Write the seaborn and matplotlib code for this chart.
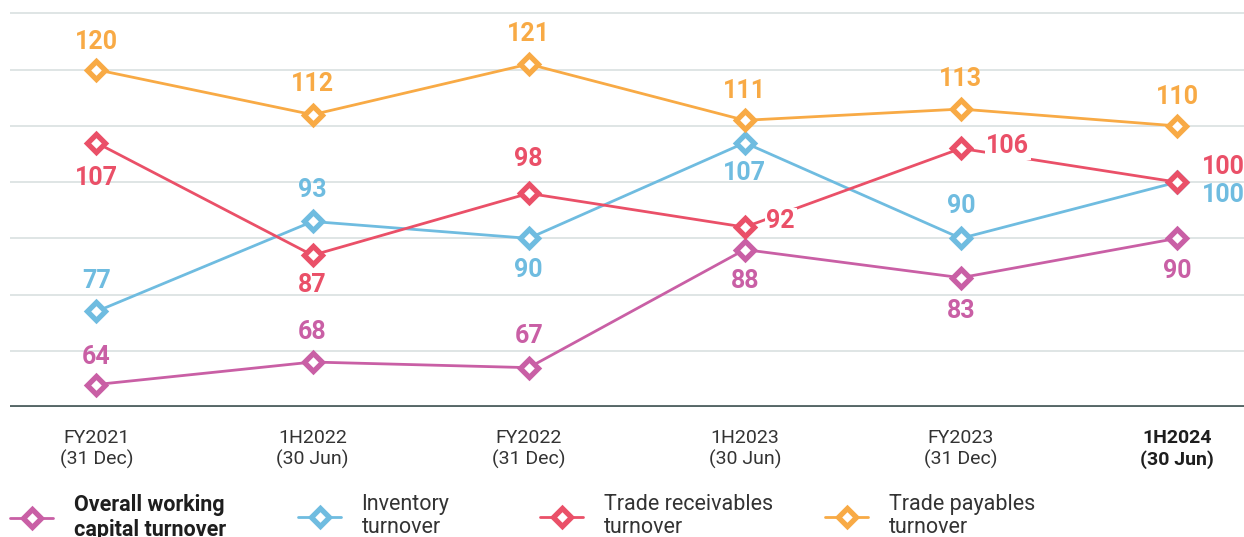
import pandas as pd
import seaborn as sns
import matplotlib.pyplot as plt
from matplotlib.lines import Line2D

periods = ["FY2021\n(31 Dec)", "1H2022\n(30 Jun)", "FY2022\n(31 Dec)",
           "1H2023\n(30 Jun)", "FY2023\n(31 Dec)", "1H2024\n(30 Jun)"]
overall = [64, 68, 67, 88, 83, 90]
inventory = [77, 93, 90, 107, 90, 100]
receivables = [107, 87, 98, 92, 106, 100]
payables = [120, 112, 121, 111, 113, 110]

series_names = ["Overall working\ncapital turnover", "Inventory\nturnover",
                "Trade receivables\nturnover", "Trade payables\nturnover"]
colors = ["#c95fa5", "#6fbce0", "#ea5068", "#f8aa45"]

# label offsets in pixels (dx, dy) for each point
offsets = [
    [(0, 28), (0, 30), (0, 32), (0, -31), (0, -33), (0, -33)],
    [(0, 30), (0, 31), (0, -32), (0, -30), (0, 32), (46, -13)],
    [(0, -35), (0, -30), (0, 34), (36, 6), (47, 2), (46, 15)],
    [(0, 28), (0, 31), (0, 30), (0, 29), (0, 30), (0, 29)],
]

sns.set_style("white")
plt.rcParams['font.family'] = ['Roboto', 'DejaVu Sans']

fig, ax = plt.subplots(figsize=(12.44, 5.37), dpi=100)
fig.subplots_adjust(left=10 / 1244, right=1.0, top=1.0, bottom=130 / 537)

x = list(range(len(periods)))
all_vals = [overall, inventory, receivables, payables]

for vals, name, c, offs in zip(all_vals, series_names, colors, offsets):
    df = pd.DataFrame({"x": x, "y": vals})
    sns.lineplot(data=df, x="x", y="y", ax=ax, color=c, linewidth=2,
                 marker="D", markersize=9, markerfacecolor="white",
                 markeredgecolor=c, markeredgewidth=3.8, zorder=3)
    for xi, yi, (dx, dy) in zip(x, vals, offs):
        bb = None
        if (dx, dy) in [(36, 6), (47, 2)]:
            bb = dict(facecolor="white", edgecolor="none", pad=1)
        ax.annotate(str(yi), (xi, yi), xytext=(dx, dy), textcoords="offset pixels",
                    ha="center", va="center", fontsize=18, fontweight="bold",
                    color=c, bbox=bb, zorder=4)

for g in range(70, 131, 10):
    ax.axhline(g, color="#dce3e3", linewidth=1.3, zorder=1)
ax.axhline(60, color="#566767", linewidth=2.8, zorder=2)

ax.set_xlim(-0.4, 5.31)
ax.set_ylim(60, 132.4)
ax.set_xticks(x)
ax.set_xticklabels(periods, fontsize=14, color="#333333")
ax.get_xticklabels()[-1].set_fontweight("bold")
ax.get_xticklabels()[-1].set_color("#1e1e1e")
ax.tick_params(axis="x", length=0, pad=16)
ax.set_yticks([])
ax.set_xlabel("")
ax.set_ylabel("")
for s in ax.spines.values():
    s.set_visible(False)

legend_x = [10, 298, 540, 825]
for name, c, lx in zip(series_names, colors, legend_x):
    h = Line2D([0], [0], color=c, linewidth=2, marker="D", markersize=9,
               markerfacecolor="white", markeredgecolor=c, markeredgewidth=3.8)
    leg = fig.legend([h], [name], loc="upper left", bbox_to_anchor=(lx / 1244, 0.08),
                     frameon=False, fontsize=15.5, handlelength=2.0,
                     handletextpad=0.95, borderpad=0, borderaxespad=0)
    t = leg.get_texts()[0]
    t.set_color("#333333")
    t.set_linespacing(1.15)
    if lx == 10:
        t.set_fontweight("bold")
        t.set_color("#1e1e1e")

fig.savefig("out.png", dpi=100)
